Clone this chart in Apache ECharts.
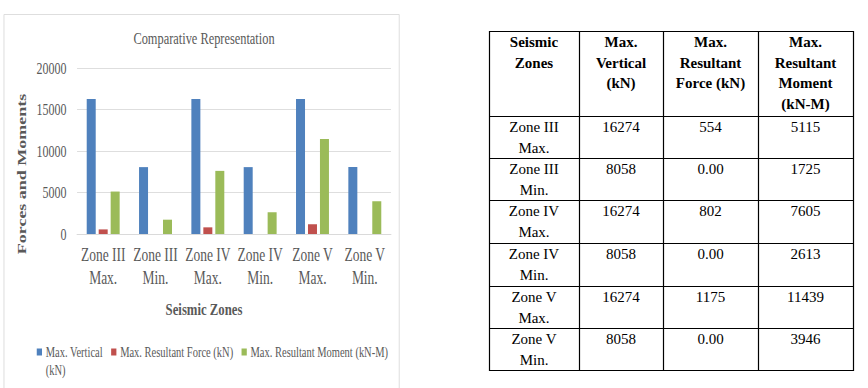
<!DOCTYPE html>
<html><head><meta charset="utf-8">
<script src="https://cdn.jsdelivr.net/npm/echarts@6/dist/echarts.min.js"></script>
<style>
html,body{margin:0;padding:0;background:#fff;width:868px;height:388px;overflow:hidden}
#chart{position:absolute;left:0;top:0;width:534px;height:388px;transform:scaleX(0.75);transform-origin:0 0}
#table{position:absolute;left:470px;top:0;width:398px;height:388px}
</style>
</head><body><div id="chart"></div><div id="table"></div>
<script>
// ---- data ----
const categories = ['Zone III\nMax.', 'Zone III\nMin.', 'Zone IV\nMax.', 'Zone IV\nMin.', 'Zone V\nMax.', 'Zone V\nMin.'];
const maxVertical = [16274, 8058, 16274, 8058, 16274, 8058];
const maxResultantForce = [554, 0, 802, 0, 1175, 0];
const maxResultantMoment = [5115, 1725, 7605, 2613, 11439, 3946];
const seriesNames = ['Max. Vertical (kN)', 'Max. Resultant Force (kN)', 'Max. Resultant Moment (kN-M)'];
const yMin = 0, yMax = 20000, yInterval = 5000;
const chartTitle = 'Comparative Representation';
const xAxisTitle = 'Seismic Zones';
const yAxisTitle = 'Forces and Moments';
const tableHeaders = ['Seismic\nZones', 'Max.\nVertical\n(kN)', 'Max.\nResultant\nForce (kN)', 'Max.\nResultant\nMoment\n(kN-M)'];

// ---- chart ----
const FONT = '"Liberation Serif", "Times New Roman", serif';
const GREY = '#595959';
const chart = echarts.init(document.getElementById('chart'), null, {renderer: 'svg'});
chart.setOption({
  backgroundColor: '#fff',
  animation: false,
  textStyle: {fontFamily: FONT},
  color: ['#4F81BD', '#C0504D', '#9BBB59'],
  grid: {left: 102.7, right: 12.7, top: 68, bottom: 154, containLabel: false},
  legend: {
    left: 44, top: 320, itemWidth: 7, itemHeight: 7, itemGap: 11,
    icon: 'rect',
    textStyle: {fontFamily: FONT, fontSize: 14, color: GREY, lineHeight: 18},
    formatter: function (name) { return name === seriesNames[0] ? '\nMax. Vertical\n(kN)' : name; },
    data: seriesNames
  },
  xAxis: {
    type: 'category', data: categories,
    axisTick: {show: false},
    axisLine: {lineStyle: {color: '#d9d9d9'}},
    axisLabel: {interval: 0, fontFamily: FONT, fontSize: 18, lineHeight: 23, color: GREY, margin: 9}
  },
  yAxis: {
    type: 'value', min: yMin, max: yMax, interval: yInterval,
    axisLine: {show: false}, axisTick: {show: false},
    splitLine: {lineStyle: {color: '#d9d9d9'}},
    axisLabel: {fontFamily: FONT, fontSize: 16, color: GREY, margin: 14, formatter: function (v) { return String(v); }}
  },
  series: [
    {name: seriesNames[0], type: 'bar', data: maxVertical, barWidth: 12, barGap: '33%'},
    {name: seriesNames[1], type: 'bar', data: maxResultantForce, barWidth: 12, barGap: '33%'},
    {name: seriesNames[2], type: 'bar', data: maxResultantMoment, barWidth: 12, barGap: '33%'}
  ],
  graphic: [
    {type: 'rect', shape: {x: 5.3, y: 14.5, width: 527, height: 400}, style: {fill: 'none', stroke: '#d9d9d9', lineWidth: 1}, silent: true},
    {type: 'text', x: 272, y: 38, style: {text: chartTitle, fontFamily: FONT, fontSize: 16.5, fill: GREY, align: 'center', verticalAlign: 'middle'}},
    {type: 'text', x: 272, y: 309, style: {text: xAxisTitle, fontFamily: FONT, fontSize: 17, fontWeight: 'bold', fill: GREY, align: 'center', verticalAlign: 'middle'}},
    {type: 'text', x: 29, y: 174, rotation: Math.PI / 2, style: {text: yAxisTitle, fontFamily: FONT, fontSize: 18, fontWeight: 'bold', fill: GREY, align: 'center', verticalAlign: 'middle'}}
  ]
});

// ---- table ----
const table = echarts.init(document.getElementById('table'), null, {renderer: 'svg'});
const colX = [19, 109, 193, 288, 383];
const rowY = [31, 116, 158, 200, 243, 286, 328, 370];
const els = [];
rowY.forEach(function (y) {
  els.push({type: 'line', shape: {x1: colX[0], y1: y + 0.5, x2: colX[4] + 1, y2: y + 0.5}, style: {stroke: '#000', lineWidth: 1.2}});
});
colX.forEach(function (x) {
  els.push({type: 'line', shape: {x1: x + 0.5, y1: rowY[0], x2: x + 0.5, y2: rowY[rowY.length - 1] + 1}, style: {stroke: '#000', lineWidth: 1.2}});
});
function cx(i) { return (colX[i] + colX[i + 1]) / 2; }
tableHeaders.forEach(function (h, i) {
  els.push({type: 'text', x: cx(i), y: rowY[0] + 1, style: {text: h, fontFamily: FONT, fontSize: 15, fontWeight: 'bold', fill: '#000', align: 'center', verticalAlign: 'top', lineHeight: 20.5}});
});
categories.forEach(function (c, r) {
  const vals = [c, String(maxVertical[r]), maxResultantForce[r] === 0 ? '0.00' : String(maxResultantForce[r]), String(maxResultantMoment[r])];
  vals.forEach(function (v, i) {
    els.push({type: 'text', x: cx(i), y: rowY[r + 1] + 0.5, style: {text: v, fontFamily: FONT, fontSize: 15, fill: '#000', align: 'center', verticalAlign: 'top', lineHeight: 21}});
  });
});
table.setOption({backgroundColor: '#fff', animation: false, graphic: els});
</script>
</body></html>
